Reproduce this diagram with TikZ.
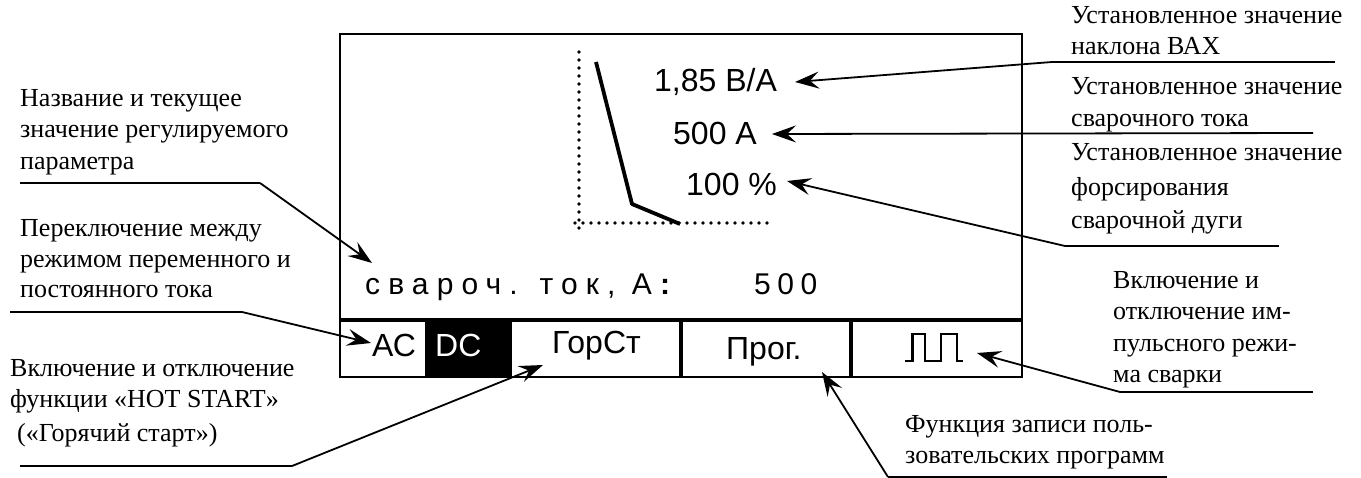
\documentclass[tikz,border=0pt]{standalone}
\usepackage{fontspec}
\setmainfont{Liberation Serif}
\newfontfamily\lcdfont{Liberation Sans}
\newfontfamily\lcdspaced[LetterSpace=22]{Liberation Sans}
\newfontfamily\lcdwide[LetterSpace=27]{Liberation Sans}
\usetikzlibrary{arrows.meta}
\tikzset{
  lab/.style={anchor=base west,inner sep=0pt,font=\fontsize{26}{30}\selectfont},
  lcd/.style={anchor=base west,inner sep=0pt,font=\lcdfont\fontsize{32}{36}\selectfont},
  lead/.style={line width=1.8pt,line join=miter,-{Stealth[length=24pt,width=17pt,inset=9pt]}},
  underl/.style={line width=2.4pt},
  frame/.style={line width=2.5pt},
  divider/.style={line width=3.4pt},
  axis/.style={line width=3.8pt,line cap=round,dash pattern=on 0pt off 8pt},
  curve/.style={line width=3.8pt,line join=bevel}
}
\begin{document}
\begin{tikzpicture}[x=1pt,y=-1pt]
\useasboundingbox (0,0) rectangle (1361,478);
% display
\fill (425,320) rectangle (512,377);
\draw[frame] (340,34) rectangle (1022,377);
\draw[divider] (340,320) -- (1022,320);
\draw[divider] (681,320) -- (681,377);
\draw[divider] (851,320) -- (851,377);
% curve and axes
\draw[axis] (579,52) -- (579,228);
\draw[axis] (575,223) -- (768,223);
\draw[curve] (596,62) -- (632,204) -- (680,224);
% display text
\node[lcd] (v1) at (654,92) {1,85 В/А};
\node[lcd] (v2) at (673,145) {500 А};
\node[lcd] (v3) at (686,196) {100 \%};
\node[lcd,font=\lcdwide\fontsize{30}{36}\selectfont] (p1) at (365,295) {свароч. ток, А\textbf{:}};
\node[lcd,font=\lcdspaced\fontsize{30}{36}\selectfont] (p2) at (754,295) {500};
\node[lcd] (ac) at (372,357) {АС};
\node[lcd,text=white] (dc) at (435,357) {DC};
\node[lcd] (gs) at (552,354) {ГорСт};
\node[lcd] (pr) at (726,360) {Прог.};
\draw[line width=2.4pt] (905,361) -- (912.5,361) -- (912.5,334) -- (925,334) -- (925,361) -- (941,361) -- (941,334) -- (957,334) -- (957,361) -- (963,361);
% labels right
\node[lab] (t1) at (1071,24) {Установленное значение};
\node[lab] (t2) at (1071,55) {наклона ВАХ};
\node[lab] (t3) at (1071,95) {Установленное значение};
\node[lab] (t4) at (1071,127) {сварочного тока};
\node[lab] (t5) at (1071,161) {Установленное значение};
\node[lab] (t6) at (1071,196) {форсирования};
\node[lab] (t7) at (1071,229) {сварочной дуги};
% labels left
\node[lab] (l1) at (20,107) {Название и текущее};
\node[lab] (l2) at (20,138) {значение регулируемого};
\node[lab] (l3) at (20,170) {параметра};
\node[lab] (l4) at (20,237) {Переключение между};
\node[lab] (l5) at (20,268) {режимом переменного и};
\node[lab] (l6) at (20,298) {постоянного тока};
\node[lab] (l7) at (10,377) {Включение и отключение};
\node[lab] (l8) at (10,408) {функции «HOT START»};
\node[lab] (l9) at (17,441) {(«Горячий старт»)};
% labels bottom right
\node[lab] (r1) at (1113,289) {Включение и};
\node[lab] (r2) at (1113,320) {отключение им-};
\node[lab] (r3) at (1113,352) {пульсного режи-};
\node[lab] (r4) at (1113,383) {ма сварки};
\node[lab] (b1) at (905,432) {Функция записи поль-};
\node[lab] (b2) at (905,463) {зовательских программ};
% connector points
\coordinate (c1a) at (1335,62); \coordinate (c1b) at (1052,62); \coordinate (c1t) at (795,82);
\coordinate (c2a) at (1313,133); \coordinate (c2t) at (772,134);
\coordinate (c3a) at (1279,246); \coordinate (c3b) at (1065,246); \coordinate (c3t) at (787,181);
\coordinate (c4a) at (20,183); \coordinate (c4b) at (260,183); \coordinate (c4t) at (372,263);
\coordinate (c5a) at (10,312); \coordinate (c5b) at (242,312); \coordinate (c5t) at (371,343);
\coordinate (c6a) at (20,466); \coordinate (c6b) at (292,466); \coordinate (c6t) at (543,365);
\coordinate (c7a) at (1167,477); \coordinate (c7b) at (888,477); \coordinate (c7t) at (822,372);
\coordinate (c8a) at (1313,392); \coordinate (c8b) at (1120,392); \coordinate (c8t) at (977,353);
% connectors
\draw[underl] (c1a) -- (c1b);
\draw[lead] (c1b) -- (c1t);
\draw[lead] (c2a) -- (c2t);
\draw[underl] (c3a) -- (c3b);
\draw[lead] (c3b) -- (c3t);
\draw[underl] (c4a) -- (c4b);
\draw[lead] (c4b) -- (c4t);
\draw[underl] (c5a) -- (c5b);
\draw[lead] (c5b) -- (c5t);
\draw[underl] (c6a) -- (c6b);
\draw[lead] (c6b) -- (c6t);
\draw[line width=1.2pt] (c7a) -- (c7b);
\draw[lead] (c7b) -- (c7t);
\draw[underl] (c8a) -- (c8b);
\draw[lead] (c8b) -- (c8t);
\end{tikzpicture}
\end{document}
